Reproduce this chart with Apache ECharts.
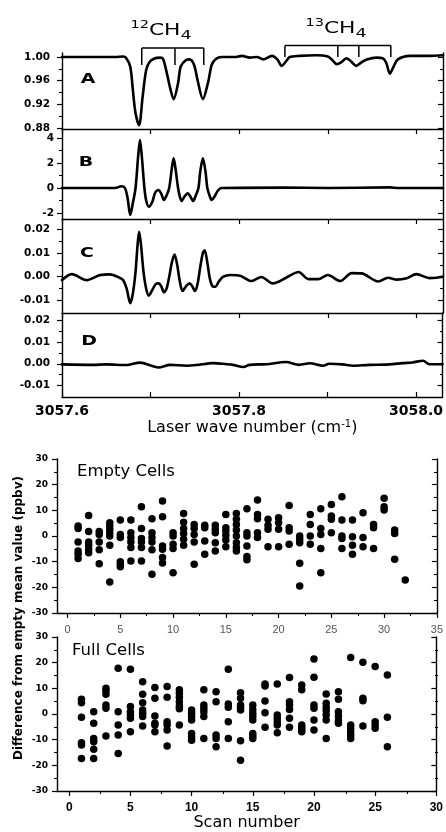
<!DOCTYPE html>
<html><head><meta charset="utf-8">
<script src="https://cdn.jsdelivr.net/npm/echarts@6.0.0/dist/echarts.min.js"></script>
<style>html,body{margin:0;padding:0;background:#fff}#c{width:446px;height:832px}</style>
</head><body><div id="c"></div>
<script>
// ---------- DATA ----------
const spectrumA = [[3057.600,1.000],[3057.660,1.000],[3057.669,1.001],[3057.672,0.999],[3057.677,0.984],[3057.680,0.944],[3057.683,0.905],[3057.687,0.885],[3057.691,0.933],[3057.695,0.978],[3057.699,0.992],[3057.705,0.998],[3057.711,0.999],[3057.714,0.997],[3057.718,0.975],[3057.722,0.948],[3057.726,0.929],[3057.731,0.956],[3057.734,0.984],[3057.740,0.995],[3057.744,0.996],[3057.749,0.987],[3057.753,0.961],[3057.759,0.929],[3057.765,0.958],[3057.769,0.987],[3057.774,0.997],[3057.780,1.000],[3057.795,1.000],[3057.803,1.002],[3057.812,0.999],[3057.820,1.000],[3057.827,0.996],[3057.837,1.002],[3057.843,0.996],[3057.848,0.985],[3057.853,0.993],[3057.857,1.000],[3057.868,1.002],[3057.887,1.003],[3057.900,1.001],[3057.905,0.995],[3057.910,0.988],[3057.915,0.991],[3057.921,0.998],[3057.926,0.993],[3057.932,0.985],[3057.938,0.991],[3057.944,0.996],[3057.955,0.999],[3057.962,0.998],[3057.966,0.990],[3057.970,0.972],[3057.974,0.983],[3057.979,0.996],[3057.993,1.002],[3058.015,1.002],[3058.030,1.003]];
const spectrumB = [[3057.600,0],[3057.660,0],[3057.667,0.14],[3057.671,0],[3057.674,-0.8],[3057.677,-2.16],[3057.680,-1.2],[3057.683,0],[3057.686,2.6],[3057.688,3.84],[3057.690,2.6],[3057.693,0],[3057.695,-1.0],[3057.698,-1.5],[3057.702,-1.1],[3057.705,-0.4],[3057.709,-0.16],[3057.712,-0.45],[3057.715,-0.96],[3057.718,-0.6],[3057.721,0],[3057.724,1.6],[3057.726,2.37],[3057.728,1.6],[3057.731,0],[3057.733,-0.7],[3057.735,-1.04],[3057.738,-0.7],[3057.742,-0.43],[3057.745,-0.7],[3057.748,-1.04],[3057.751,-0.6],[3057.754,0],[3057.756,1.3],[3057.759,2.37],[3057.762,1.3],[3057.764,0],[3057.767,-0.7],[3057.769,-0.96],[3057.772,-0.7],[3057.776,-0.2],[3057.780,0],[3057.850,0.03],[3057.900,0],[3057.970,0.05],[3057.980,0],[3058.030,0]];
const spectrumC = [[3057.600,-0.0014],[3057.611,0.0011],[3057.628,-0.0014],[3057.643,0.0007],[3057.654,0.0010],[3057.665,-0.0004],[3057.669,-0.0014],[3057.673,-0.0050],[3057.677,-0.0111],[3057.680,-0.0070],[3057.683,0.0020],[3057.685,0.0120],[3057.687,0.0188],[3057.689,0.0140],[3057.692,0.0020],[3057.695,-0.0050],[3057.698,-0.0079],[3057.702,-0.0055],[3057.706,-0.0030],[3057.709,-0.0028],[3057.712,-0.0040],[3057.715,-0.0065],[3057.718,-0.0050],[3057.721,0.0000],[3057.724,0.0060],[3057.727,0.0093],[3057.730,0.0050],[3057.733,-0.0020],[3057.736,-0.0060],[3057.740,-0.0040],[3057.744,-0.0028],[3057.747,-0.0040],[3057.750,-0.0060],[3057.753,-0.0030],[3057.756,0.0040],[3057.759,0.0100],[3057.761,0.0111],[3057.764,0.0060],[3057.767,-0.0010],[3057.770,-0.0040],[3057.773,-0.0042],[3057.777,-0.0020],[3057.782,0.0000],[3057.790,0.0007],[3057.801,0.0004],[3057.814,-0.0018],[3057.825,-0.0001],[3057.838,-0.0028],[3057.853,-0.0004],[3057.867,0.0020],[3057.878,-0.0010],[3057.889,-0.0010],[3057.900,0.0007],[3057.914,-0.0018],[3057.927,0.0015],[3057.938,0.0014],[3057.957,-0.0020],[3057.968,-0.0004],[3057.978,-0.0012],[3057.989,-0.0006],[3058.000,0.0011],[3058.015,-0.0006],[3058.023,-0.0004],[3058.030,0.0000]];
const spectrumD = [[3057.600,-0.0003],[3057.635,-0.0005],[3057.650,-0.0003],[3057.673,-0.0006],[3057.688,0.0005],[3057.709,-0.0017],[3057.722,-0.0005],[3057.741,-0.0009],[3057.752,-0.0006],[3057.771,0.0003],[3057.786,-0.0002],[3057.793,-0.0005],[3057.805,-0.0015],[3057.812,-0.0005],[3057.831,-0.0002],[3057.853,0.0008],[3057.868,-0.0005],[3057.880,0.0002],[3057.895,-0.0009],[3057.902,0.0000],[3057.917,-0.0003],[3057.929,-0.0009],[3057.947,-0.0005],[3057.970,-0.0003],[3057.985,0.0003],[3057.996,0.0006],[3058.008,0.0014],[3058.015,-0.0002],[3058.030,-0.0002]];

const ch12Lines = [3057.690, 3057.7275, 3057.760];
const ch13Lines = [3057.8516, 3057.9113, 3057.935, 3057.9711];

// scan 1..N, each entry = values measured in that scan (ppbv)
const emptyCells = [
 [3.9,2.9,-2.3,-5.8,-7.1,-8.8],[8.0,1.8,-2.3,-3.6,-5.2,-6.5],[1.8,0.6,-2.3,-5.4,-10.8],[5.2,3.9,2.6,1.3,0.0,-3.6,-17.9],
 [6.2,0.6,-0.6,-10.0,-11.0,-12.0],[6.2,1.3,-0.6,-2.3,-4.5,-9.7],[11.4,2.9,-1.0,-2.3,-4.5,-9.7],[6.7,1.3,-0.6,-2.3,-5.4,-14.9],
 [13.6,7.5,-3.9,-5.2,-8.4,-10.5],[1.3,0.0,-3.2,-4.9,-14.3],[8.8,5.4,2.9,1.0,-1.3,-3.6],[4.5,2.9,0.6,-2.3,-11.0],
 [4.2,3.2,-1.9,-7.1],[4.2,2.6,1.3,-2.6,-5.8],[8.4,3.2,1.9,0.3,-1.6,-4.2],[8.8,6.5,4.5,2.3,0.0,-2.6,-4.5,-5.8],
 [10.6,1.3,0.0,-3.9,-8.0,-9.3],[14.0,8.4,6.7,1.3,-0.6],[6.5,4.2,2.6,-4.2],[7.1,5.2,2.6,-4.2],
 [11.9,3.2,1.9,-3.2],[0.0,-1.3,-2.6,-10.6,-19.5],[8.4,4.5,0.0,-3.2],[10.6,2.9,0.6,-4.9,-14.3],
 [12.3,7.8,6.5,1.3],[15.3,6.2,0.0,-1.0,-4.9],[6.2,-0.3,-3.6,-7.1],[9.1,-0.6,-4.2],
 [4.5,3.2,-4.9],[14.7,11.4,10.1],[2.3,1.0,-9.1],[-17.1]
];
const fullCells = [
 [5.7,4.4,-1.3,-11.2,-12.1,-17.3],[0.9,-3.6,-9.5,-10.8,-13.7,-17.3],[10.0,9.1,7.7,3.5,2.2,-8.6],[17.8,0.9,-4.3,-8.2,-15.4],
 [17.4,2.9,0.9,-0.4,-1.7,-6.9],[12.6,7.7,4.4,1.6,0.3,-1.0,-4.7],[10.3,6.1,-0.8,-3.6,-4.3,-6.9],[10.7,6.5,-3.0,-4.3,-6.2,-12.5],
 [9.4,8.1,6.5,4.8,3.1,2.0,-4.3],[1.6,0.3,-1.0,-2.3,-7.6,-8.9,-10.2],[9.4,3.5,2.2,0.9,-1.0,-9.5],[8.7,4.8,-8.2,-9.5,-12.8],
 [17.4,3.9,2.6,-3.0,-9.5],[8.3,6.1,3.5,2.6,1.6,-10.4,-18.0],[3.5,1.8,0.3,-1.0,-2.3,-7.6,-8.6,-9.5],[11.7,10.9,5.1,0.5,-5.2],
 [11.7,-0.4,-1.7,-3.0,-4.3,-7.3],[14.2,4.8,3.5,1.8,-1.7,-5.2],[11.3,9.4,-4.3,-5.2,-6.2,-6.9],[21.4,14.3,3.5,2.2,-2.3,-6.2],
 [7.8,4.2,2.6,1.3,-0.4,-2.3,-9.5],[8.7,5.7,0.9,-0.8,-2.5,-3.6],[22.0,-4.3,-5.6,-6.9,-8.2,-9.5],[20.2,6.1,5.2,-4.7],
 [18.5,-3.0,-4.3,-5.6],[15.2,-1.3,-12.8]
];

// tick values
const waveTicks = [3057.6, 3057.7, 3057.8, 3057.9, 3058.0];
const ticksA = [0.88, 0.92, 0.96, 1.00], minorA = [0.90, 0.94, 0.98];
const ticksB = [-2, 0, 2, 4], minorB = [-1, 1, 3];
const ticksCD = [-0.01, 0, 0.01, 0.02], minorCD = [-0.005, 0.005, 0.015];
const scanTicksEmpty = [0, 5, 10, 15, 20, 25, 30, 35], scanMinorEmpty = [2.5, 7.5, 12.5, 17.5, 22.5, 27.5, 32.5];
const scanTicksFull = [0, 5, 10, 15, 20, 25, 30], scanMinorFull = [2.5, 7.5, 12.5, 17.5, 22.5, 27.5];
const diffTicks = [-30, -20, -10, 0, 10, 20, 30], diffMinor = [-25, -15, -5, 5, 15, 25];

// ---------- BUILD ----------
const K = '#000';
const grids = [], xAxes = [], yAxes = [];
function addPanel(rect, xc, yc) {
  const g = grids.length;
  grids.push(Object.assign({}, rect));
  grids.push(Object.assign({}, rect));
  const xi = xAxes.length;
  xAxes.push({
    type: 'value', gridIndex: g, position: 'bottom', min: xc.min, max: xc.max,
    axisLine: { show: true, onZero: false, lineStyle: { color: K, width: 1.4 } },
    axisTick: { show: true, inside: xc.inside, length: xc.len, customValues: xc.major, lineStyle: { color: K, width: 1.2 } },
    axisLabel: Object.assign({ show: !!xc.label, customValues: xc.major, formatter: xc.fmt }, xc.label || {}),
    splitLine: { show: false },
    name: xc.name || '', nameLocation: 'middle', nameGap: xc.nameGap || 20, nameTextStyle: xc.nameStyle || {}
  });
  xAxes.push({
    type: 'value', gridIndex: g + 1, position: 'bottom', min: xc.min, max: xc.max,
    axisLine: { show: false, onZero: false },
    axisTick: { show: !!xc.minor, inside: xc.inside, length: xc.minorLen || 3, customValues: xc.minor || [], lineStyle: { color: K, width: 1.1 } },
    axisLabel: { show: false }, splitLine: { show: false }
  });
  const yi = yAxes.length;
  const base = { type: 'value', min: yc.min, max: yc.max, splitLine: { show: false } };
  yAxes.push(Object.assign({}, base, {
    gridIndex: g, position: 'left',
    axisLine: { show: true, onZero: false, lineStyle: { color: K, width: 1.4 } },
    axisTick: { show: true, inside: false, length: 5, customValues: yc.major, lineStyle: { color: K, width: 1.2 } },
    axisLabel: Object.assign({ customValues: yc.major, formatter: yc.fmt }, yc.label)
  }));
  yAxes.push(Object.assign({}, base, {
    gridIndex: g, position: 'right',
    axisLine: { show: true, onZero: false, lineStyle: { color: K, width: 1.4 } },
    axisTick: { show: true, inside: true, length: 5, customValues: yc.major, lineStyle: { color: K, width: 1.2 } },
    axisLabel: { show: false }
  }));
  yAxes.push(Object.assign({}, base, {
    gridIndex: g + 1, position: 'left',
    axisLine: { show: false, onZero: false },
    axisTick: { show: true, inside: false, length: 3, customValues: yc.minor, lineStyle: { color: K, width: 1.1 } },
    axisLabel: { show: false }
  }));
  yAxes.push(Object.assign({}, base, {
    gridIndex: g + 1, position: 'right',
    axisLine: { show: false, onZero: false },
    axisTick: { show: true, inside: true, length: 3, customValues: yc.minor, lineStyle: { color: K, width: 1.1 } },
    axisLabel: { show: false }
  }));
  return { xi, yi };
}

const topLabel = { fontFamily: 'DejaVu Sans', fontWeight: 'bold', fontSize: 10.5, color: K, margin: 12 };
const waveX = (withLabels, inside) => ({
  min: 3057.6, max: 3058.03, major: waveTicks, inside: inside, len: 5,
  fmt: v => (Math.abs(v * 5 - Math.round(v * 5)) < 1e-6 ? v.toFixed(1) : ''),
  label: withLabels ? { fontFamily: 'DejaVu Sans', fontWeight: 'bold', fontSize: 14, color: K, margin: 7 } : null
});

const pA = addPanel({ left: 62, top: 53, width: 381, height: 76 }, waveX(false, false),
  { min: 0.8785, max: 1.0068, major: ticksA, minor: minorA, fmt: v => v.toFixed(2), label: topLabel });
const pB = addPanel({ left: 62, top: 129, width: 381, height: 90 }, waveX(false, false),
  { min: -2.48, max: 4.72, major: ticksB, minor: minorB, fmt: v => String(v), label: Object.assign({}, topLabel, { margin: 8 }) });
const pC = addPanel({ left: 62, top: 219, width: 381, height: 94 }, waveX(false, false),
  { min: -0.0152, max: 0.0242, major: ticksCD, minor: minorCD, fmt: v => v.toFixed(2), label: topLabel });
const xD = waveX(true, true);
xD.name = 'Laser wave number (cm{sup|-1})';
xD.nameGap = 22;
xD.nameStyle = { fontFamily: 'DejaVu Sans', fontSize: 16, color: K, rich: { sup: { fontFamily: 'DejaVu Sans', fontSize: 10, color: K, verticalAlign: 'top', padding: [0, 0, 8, 0] } } };
const pD = addPanel({ left: 62, top: 313, width: 381, height: 84 }, xD,
  { min: -0.0152, max: 0.0232, major: ticksCD, minor: minorCD, fmt: v => v.toFixed(2), label: topLabel });

const diffLabel = { fontFamily: 'DejaVu Sans', fontWeight: 'bold', fontSize: 9, color: K, margin: 9 };
const pE = addPanel({ left: 57, top: 459, width: 380, height: 154 },
  { min: -1, max: 35, major: scanTicksEmpty, minor: scanMinorEmpty, inside: false, len: 5, minorLen: 3, fmt: v => String(v),
    label: { fontFamily: 'Liberation Sans', fontSize: 11, color: '#555', margin: 11 } },
  { min: -30, max: 30, major: diffTicks, minor: diffMinor, fmt: v => String(v), label: diffLabel });
const pF = addPanel({ left: 57, top: 637, width: 381, height: 154 },
  { min: -1, max: 30, major: scanTicksFull, minor: scanMinorFull, inside: false, len: 5, minorLen: 3, fmt: v => String(v),
    label: { fontFamily: 'Liberation Sans', fontWeight: 'bold', fontSize: 12, color: K, margin: 11 },
    name: 'Scan number', nameGap: 23, nameStyle: { fontFamily: 'DejaVu Sans', fontSize: 16, color: K } },
  { min: -30, max: 30, major: diffTicks, minor: diffMinor, fmt: v => String(v), label: diffLabel });

const lineSeries = (p, data) => ({
  type: 'line', xAxisIndex: p.xi, yAxisIndex: p.yi, data: data, showSymbol: false, symbol: 'none',
  smooth: 0.3, lineStyle: { color: K, width: 2.6, join: 'round', cap: 'round' }, silent: true
});
const toPoints = arr => arr.flatMap((vals, i) => vals.map(v => [i + 1, v]));
const scatterSeries = (p, arr) => ({
  type: 'scatter', xAxisIndex: p.xi, yAxisIndex: p.yi, data: toPoints(arr),
  symbol: 'circle', symbolSize: 7.5, itemStyle: { color: K, opacity: 1 }, silent: true
});

const chart = echarts.init(document.getElementById('c'));
chart.setOption({
  animation: false,
  backgroundColor: '#fff',
  textStyle: { fontFamily: 'DejaVu Sans' },
  grid: grids, xAxis: xAxes, yAxis: yAxes,
  series: [
    lineSeries(pA, spectrumA), lineSeries(pB, spectrumB), lineSeries(pC, spectrumC), lineSeries(pD, spectrumD),
    scatterSeries(pE, emptyCells), scatterSeries(pF, fullCells)
  ]
});

// ---------- ANNOTATIONS ----------
const px = v => chart.convertToPixel({ xAxisIndex: pA.xi }, v);
function bracket(lines, yTop, yBot) {
  const xs = lines.map(px);
  const els = [{ type: 'line', shape: { x1: xs[0], y1: yTop, x2: xs[xs.length - 1], y2: yTop }, style: { stroke: K, lineWidth: 1.5 } }];
  xs.forEach(x => els.push({ type: 'line', shape: { x1: x, y1: yTop, x2: x, y2: yBot }, style: { stroke: K, lineWidth: 1.5 } }));
  return els;
}
const letter = (t, x, y) => ({ type: 'text', x: x, y: y, scaleX: 1.35, style: { text: t, font: 'bold 14px "DejaVu Sans"', fill: K, align: 'center', verticalAlign: 'middle' } });
const isoRich = {
  s: { fontFamily: 'DejaVu Sans', fontSize: 10, fill: K, verticalAlign: 'top', lineHeight: 22 },
  m: { fontFamily: 'DejaVu Sans', fontSize: 15, fill: K, verticalAlign: 'middle', lineHeight: 22 },
  u: { fontFamily: 'DejaVu Sans', fontSize: 12, fill: K, verticalAlign: 'bottom', lineHeight: 22 }
};
const iso = (t, x, y) => ({ type: 'text', x: x, y: y, scaleX: 1.45, style: { text: t, rich: isoRich, fill: K, align: 'center', verticalAlign: 'middle' } });

chart.setOption({
  graphic: [].concat(
    bracket(ch12Lines, 48, 65),
    bracket(ch13Lines, 45.5, 57),
    [
      iso('{s|12}{m|CH}{u|4}', 161, 31),
      iso('{s|13}{m|CH}{u|4}', 336, 29),
      letter('A', 88, 79), letter('B', 86, 162), letter('C', 87, 253), letter('D', 89, 341),
      { type: 'text', x: 77, y: 472, scaleX: 1.1, style: { text: 'Empty Cells', font: '15px "DejaVu Sans"', fill: K, align: 'left', verticalAlign: 'middle' } },
      { type: 'text', x: 72, y: 651, scaleX: 1.1, style: { text: 'Full Cells', font: '15px "DejaVu Sans"', fill: K, align: 'left', verticalAlign: 'middle' } },
      { type: 'text', x: 19, y: 618, rotation: Math.PI / 2, style: { text: 'Difference from empty mean value (ppbv)', font: 'bold 12px "DejaVu Sans"', fill: K, align: 'center', verticalAlign: 'middle' } }
    ]
  )
});
</script>
</body></html>
